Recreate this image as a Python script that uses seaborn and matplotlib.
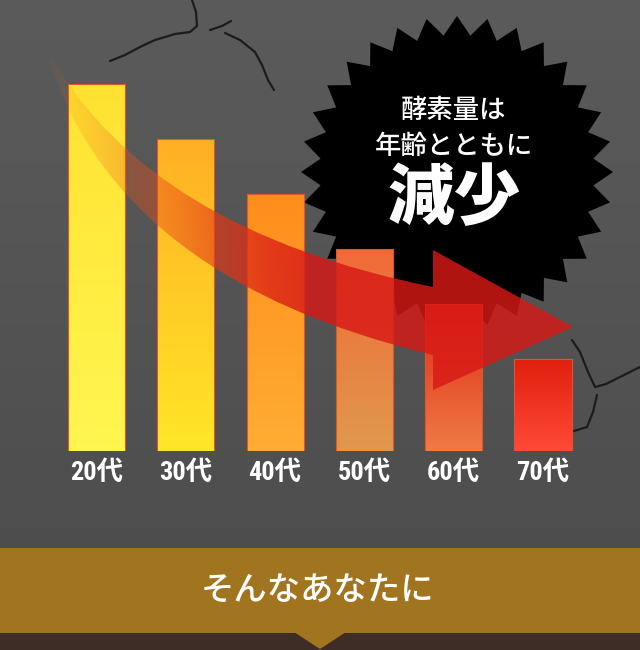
import numpy as np
import pandas as pd
import matplotlib
matplotlib.use("Agg")
import matplotlib.pyplot as plt
import seaborn as sns
from matplotlib.patches import Polygon, Rectangle, PathPatch
from matplotlib.path import Path
from matplotlib.colors import to_rgb
from matplotlib import font_manager

# -----------------------------
# data
# -----------------------------
ages = ["20代", "30代", "40代", "50代", "60代", "70代"]
enzyme = [100, 85, 70, 55, 40, 25]
bar_top_colors = ["#ffe231", "#ffb024", "#ff8d1c", "#f06a38", "#dc2a14", "#e0200e"]
bar_bottom_colors = ["#fff650", "#ffe628", "#ffad34", "#e0994c", "#f07a45", "#ff4a36"]
badge_lines = ["酵素量は", "年齢とともに"]
badge_big = "減少"
banner_text = "そんなあなたに"

W, H = 640, 650

sns.set_theme(style="white")
names = {f.name for f in font_manager.fontManager.ttflist}
narrow = [n for n in ["Liberation Sans Narrow", "Roboto Condensed", "Open Sans Condensed",
                      "Arial Narrow"] if n in names]
num_fonts = narrow + ["DejaVu Sans", "Noto Sans CJK JP"]
plt.rcParams["font.family"] = ["Noto Sans CJK JP", "DejaVu Sans"]

fig = plt.figure(figsize=(6.4, 6.5), dpi=100)

# -----------------------------
# background layer (pixel coords)
# -----------------------------
bg = fig.add_axes([0, 0, 1, 1], zorder=0)
t = np.linspace(0, 1, H)[:, None, None]
c1, c2 = np.array(to_rgb("#5b5b5b")), np.array(to_rgb("#4b4b4b"))
bg.imshow(c1 + (c2 - c1) * t, extent=(0, W, H, 0), aspect="auto", zorder=0)

# cracks in the wall
cracks = [
    [(110, 61), (125, 55), (140, 47), (155, 40), (175, 34), (190, 32), (197, 26), (196, 12), (192, 0)],
    [(210, 30), (222, 26), (231, 21)],
    [(225, 33), (240, 40), (255, 52), (262, 65), (268, 80), (274, 90)],
    [(572, 340), (580, 352), (588, 372), (595, 387), (606, 384), (620, 377), (640, 367)],
    [(597, 395), (593, 412), (587, 427), (574, 431)],
]
for c in cracks:
    xs, ys = zip(*c)
    bg.plot(xs, ys, color="#1c1c1c", lw=1.6, zorder=1, solid_capstyle="round")

# starburst badge
n = 32
ang = np.linspace(0, 2 * np.pi, 2 * n, endpoint=False) + np.pi / 2
r = np.where(np.arange(2 * n) % 2 == 0, 156, 137)
cx, cy = 457, 172
pts = np.c_[cx + r * np.cos(ang), cy - r * np.sin(ang)]
bg.add_patch(Polygon(pts, closed=True, fc="black", ec="none", zorder=2))
bg.text(cx - 3, 110, badge_lines[0], color="white", fontsize=19, ha="center",
        va="center", fontweight="medium", zorder=3)
bg.text(cx - 3, 146, badge_lines[1], color="white", fontsize=19, ha="center",
        va="center", fontweight="medium", zorder=3)
bg.text(cx - 3, 199, badge_big, color="white", fontsize=48, ha="center",
        va="center", fontweight="heavy", zorder=3)

# bottom banner
bg.add_patch(Rectangle((0, 548), W, 85, fc="#a1741f", ec="none", zorder=3))
bg.add_patch(Rectangle((0, 633), W, 17, fc="#3e2c26", ec="none", zorder=3))
bg.add_patch(Polygon([(294, 632), (346, 632), (320, 649)], fc="#a1741f", ec="none", zorder=4))
bg.text(W / 2 - 2, 590, banner_text, color="white", fontsize=24, ha="center",
        va="center", fontweight="medium", zorder=5)

bg.set_xlim(0, W)
bg.set_ylim(H, 0)
bg.axis("off")

# -----------------------------
# bar chart
# -----------------------------
df = pd.DataFrame({"age": ages, "enzyme": enzyme})
step = 89.3
left_px = 96.5 - step / 2
ax = fig.add_axes([left_px / W, (H - 451) / H, 6 * step / W, 367 / H], zorder=1)
ax.patch.set_alpha(0)
sns.barplot(data=df, x="age", y="enzyme", ax=ax, width=0.64,
            color="white", edgecolor="#e0552a", linewidth=0.8)

for patch, ct, cb in zip(ax.patches, bar_top_colors, bar_bottom_colors):
    x0, y0 = patch.get_x(), patch.get_y()
    w, h = patch.get_width(), patch.get_height()
    tt = np.linspace(0, 1, 64)[:, None, None]
    a, b = np.array(to_rgb(ct)), np.array(to_rgb(cb))
    im = ax.imshow(a + (b - a) * tt, extent=(x0, x0 + w, y0, y0 + h),
                   origin="upper", aspect="auto", zorder=patch.get_zorder() - 0.1)
    im.set_clip_path(patch)
    patch.set_facecolor("none")
ax.set_xlim(-0.5, 5.5)
ax.set_ylim(0, 100)

ax.set_xlabel("")
ax.set_ylabel("")
ax.set_yticks([])
ax.tick_params(axis="x", length=0, pad=7)
for lab in ax.get_xticklabels():
    lab.set_color("white")
    lab.set_fontsize(19 if narrow else 17)
    lab.set_fontweight("bold")
    lab.set_fontstretch("condensed")
    lab.set_family(num_fonts)
sns.despine(ax=ax, left=True, bottom=True)

# -----------------------------
# curved arrow overlay
# -----------------------------
ov = fig.add_axes([0, 0, 1, 1], zorder=2)
ov.patch.set_alpha(0)
verts = [(50, 55), (150, 230), (433, 287), (433, 250), (573, 327),
         (433, 390), (433, 355), (120, 280), (50, 62), (50, 55)]
codes = [Path.MOVETO, Path.CURVE3, Path.CURVE3, Path.LINETO, Path.LINETO,
         Path.LINETO, Path.LINETO, Path.CURVE3, Path.CURVE3, Path.CLOSEPOLY]
arrow = PathPatch(Path(verts, codes), fc="none", ec="none")
ov.add_patch(arrow)
xs = np.linspace(40, 580, 300)
f = np.clip((xs - 50) / 260, 0, 1)
col0, col1 = np.array([0.96, 0.45, 0.10]), np.array([0.85, 0.10, 0.09])
rgb = col0 + (col1 - col0) * f[:, None]
alpha = np.clip(0.05 + 0.8 * np.clip((xs - 50) / 220, 0, 1), 0, 0.82)
rgba = np.concatenate([rgb, alpha[:, None]], axis=1)[None, :, :]
im = ov.imshow(rgba, extent=(40, 580, 400, 40), aspect="auto", zorder=1)
im.set_clip_path(arrow)
ov.set_xlim(0, W)
ov.set_ylim(H, 0)
ov.axis("off")

fig.savefig("out.png", dpi=100)
